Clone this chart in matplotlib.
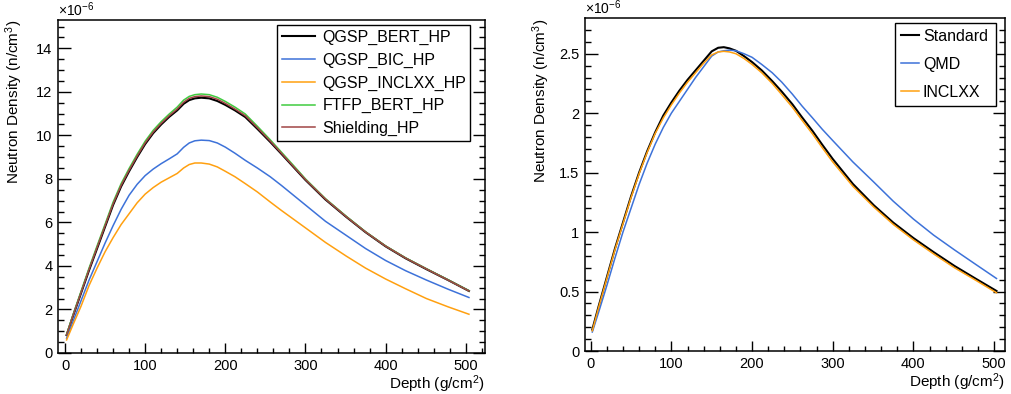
import matplotlib
matplotlib.use("Agg")
import matplotlib.pyplot as plt
from matplotlib.ticker import MultipleLocator, FuncFormatter

plt.rcParams['font.family'] = ['Liberation Sans', 'DejaVu Sans']
plt.rcParams['mathtext.fontset'] = 'custom'
plt.rcParams['mathtext.rm'] = 'Liberation Sans'
plt.rcParams['mathtext.it'] = 'Liberation Sans:italic'

# --- Data ---
depth_left = [2, 10, 20, 30, 40, 50, 60, 70, 80, 90, 100, 110, 120, 130, 140, 148, 155,
              162, 170, 180, 190, 200, 212, 225, 240, 256, 270, 285, 300, 325, 351,
              375, 400, 425, 451, 478, 504]
qgsp_bert_hp = [0.82, 1.7, 2.75, 3.8, 4.8, 5.8, 6.8, 7.65, 8.35, 9.0, 9.6, 10.1, 10.5,
                10.85, 11.15, 11.45, 11.62, 11.7, 11.73, 11.7, 11.58, 11.4, 11.15, 10.84,
                10.3, 9.7, 9.15, 8.55, 7.95, 7.05, 6.25, 5.55, 4.9, 4.35, 3.85, 3.35, 2.85]
qgsp_bic_hp = [0.68, 1.45, 2.4, 3.35, 4.2, 5.05, 5.85, 6.6, 7.25, 7.75, 8.15, 8.45, 8.7,
               8.92, 9.15, 9.45, 9.65, 9.75, 9.78, 9.76, 9.65, 9.46, 9.18, 8.85, 8.5,
               8.1, 7.7, 7.25, 6.8, 6.05, 5.4, 4.8, 4.25, 3.78, 3.35, 2.93, 2.55]
qgsp_inclxx_hp = [0.6, 1.3, 2.15, 3.1, 3.9, 4.65, 5.3, 5.9, 6.4, 6.9, 7.3, 7.6, 7.85,
                  8.05, 8.25, 8.5, 8.66, 8.73, 8.73, 8.68, 8.55, 8.35, 8.1, 7.78, 7.4,
                  6.94, 6.55, 6.15, 5.75, 5.08, 4.45, 3.9, 3.4, 2.95, 2.5, 2.12, 1.78]
ftfp_bert_hp = [0.85, 1.76, 2.83, 3.9, 4.92, 5.92, 6.93, 7.78, 8.48, 9.13, 9.73, 10.23,
                10.63, 10.98, 11.3, 11.62, 11.79, 11.87, 11.9, 11.87, 11.75, 11.56, 11.3,
                10.98, 10.42, 9.8, 9.23, 8.62, 8.0, 7.09, 6.28, 5.57, 4.92, 4.37, 3.87,
                3.36, 2.86]
shielding_hp = [0.83, 1.72, 2.78, 3.84, 4.85, 5.85, 6.85, 7.7, 8.4, 9.05, 9.65, 10.15,
                10.55, 10.9, 11.21, 11.52, 11.7, 11.78, 11.81, 11.78, 11.66, 11.47, 11.21,
                10.9, 10.35, 9.74, 9.18, 8.57, 7.97, 7.07, 6.26, 5.56, 4.91, 4.36, 3.86,
                3.35, 2.85]

depth_right = [2, 10, 20, 30, 40, 50, 60, 70, 80, 90, 100, 110, 120, 130, 140, 150, 158,
               165, 172, 180, 190, 200, 212, 225, 237, 250, 262, 275, 287, 300, 325, 351,
               375, 400, 425, 451, 478, 503]
standard = [0.18, 0.38, 0.62, 0.86, 1.08, 1.3, 1.5, 1.68, 1.84, 1.98, 2.09, 2.19, 2.28,
            2.36, 2.44, 2.52, 2.55, 2.555, 2.545, 2.525, 2.48, 2.43, 2.36, 2.27, 2.18,
            2.075, 1.965, 1.85, 1.735, 1.615, 1.405, 1.225, 1.08, 0.95, 0.832, 0.715,
            0.605, 0.505]
qmd = [0.16, 0.33, 0.55, 0.78, 1.0, 1.2, 1.4, 1.58, 1.74, 1.88, 2.0, 2.1, 2.2, 2.3,
       2.39, 2.48, 2.515, 2.525, 2.53, 2.525, 2.5, 2.47, 2.41, 2.34, 2.26, 2.16, 2.06,
       1.96, 1.865, 1.77, 1.59, 1.42, 1.26, 1.11, 0.975, 0.85, 0.725, 0.61]
inclxx = [0.17, 0.37, 0.61, 0.85, 1.07, 1.29, 1.49, 1.67, 1.83, 1.96, 2.07, 2.17, 2.26,
          2.34, 2.42, 2.49, 2.515, 2.52, 2.515, 2.5, 2.46, 2.41, 2.34, 2.25, 2.155, 2.05,
          1.94, 1.825, 1.71, 1.59, 1.385, 1.21, 1.065, 0.935, 0.817, 0.70, 0.592, 0.49]

BLACK = '#000000'
BLUE = '#3d72d9'
ORANGE = '#ffa010'
GREEN = '#40cc40'
BROWN = '#a04545'


def style_axis(ax, ymajor, yminor):
    ax.xaxis.set_major_locator(MultipleLocator(100))
    ax.xaxis.set_minor_locator(MultipleLocator(20))
    ax.yaxis.set_major_locator(MultipleLocator(ymajor))
    ax.yaxis.set_minor_locator(MultipleLocator(yminor))
    ax.yaxis.set_major_formatter(FuncFormatter(lambda v, p: '%g' % round(v, 3)))
    ax.tick_params(which='both', direction='in', right=True, top=False,
                   labelsize=10.5, width=1.0)
    ax.tick_params(axis='x', which='major', length=7, pad=4)
    ax.tick_params(axis='x', which='minor', length=3.6)
    ax.tick_params(axis='y', which='major', length=9, pad=4)
    ax.tick_params(axis='y', which='minor', length=4.6)
    for sp in ax.spines.values():
        sp.set_linewidth(1.1)
    ax.set_xlabel('Depth (g/cm$^{2}$)', fontsize=11)
    ax.set_ylabel('Neutron Density (n/cm$^{3}$)', fontsize=11)
    ax.xaxis.label.set_ha('right')
    ax.yaxis.label.set_ha('right')
    ax.xaxis.set_label_coords(1.0, -0.06)
    ax.yaxis.set_label_coords(-0.078, 1.0)
    ax.text(0.0, 1.004, r'$\times$10$^{-6}$', transform=ax.transAxes,
            fontsize=10, ha='left', va='bottom')


fig = plt.figure(figsize=(10.11, 3.94), dpi=100)

# --- Left panel: physics lists ---
ax1 = fig.add_axes([0.0574, 0.1041, 0.4223, 0.8451])
ax1.plot(depth_left, qgsp_bert_hp, color=BLACK, lw=1.5, label='QGSP_BERT_HP')
ax1.plot(depth_left, qgsp_bic_hp, color=BLUE, lw=1.1, label='QGSP_BIC_HP')
ax1.plot(depth_left, qgsp_inclxx_hp, color=ORANGE, lw=1.1, label='QGSP_INCLXX_HP')
ax1.plot(depth_left, ftfp_bert_hp, color=GREEN, lw=1.1, label='FTFP_BERT_HP')
ax1.plot(depth_left, shielding_hp, color=BROWN, lw=1.1, label='Shielding_HP')
ax1.set_xlim(-8.7, 524)
ax1.set_ylim(0, 15.3)
style_axis(ax1, 2, 0.5)
leg1 = ax1.legend(loc='upper left', bbox_to_anchor=(0.513, 0.985, 0.452, 0.0),
                  mode='expand', borderaxespad=0, fancybox=False, framealpha=1,
                  edgecolor='black', fontsize=11.5, handlelength=2.1,
                  handletextpad=0.45, labelspacing=0.48, borderpad=0.3)
leg1.get_frame().set_linewidth(1.0)

# --- Right panel: models ---
ax2 = fig.add_axes([0.5786, 0.1091, 0.4155, 0.8445])
ax2.plot(depth_right, standard, color=BLACK, lw=1.5, label='Standard')
ax2.plot(depth_right, qmd, color=BLUE, lw=1.1, label='QMD')
ax2.plot(depth_right, inclxx, color=ORANGE, lw=1.1, label='INCLXX')
ax2.set_xlim(-7.1, 513.6)
ax2.set_ylim(0, 2.798)
style_axis(ax2, 0.5, 0.1)
leg2 = ax2.legend(loc='upper left', bbox_to_anchor=(0.738, 0.987, 0.24, 0.0),
                  mode='expand', borderaxespad=0, fancybox=False, framealpha=1,
                  edgecolor='black', fontsize=11.5, handlelength=1.1,
                  handletextpad=0.25, labelspacing=0.8, borderpad=0.4)
leg2.get_frame().set_linewidth(1.0)

fig.savefig('out.png', dpi=100)
